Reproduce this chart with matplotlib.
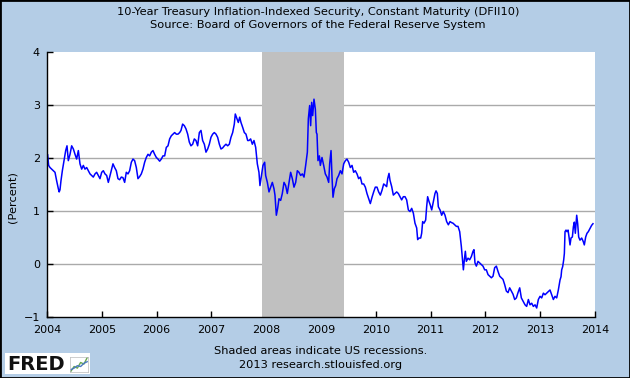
import matplotlib
matplotlib.use('Agg')
import matplotlib.pyplot as plt
from matplotlib.patches import Rectangle

# DFII10 (decimal year, percent)
years = [
    2004.012, 2004.030, 2004.055, 2004.085, 2004.116, 2004.146, 2004.176, 2004.207, 2004.222, 2004.237,
    2004.255, 2004.280, 2004.316, 2004.341, 2004.365, 2004.389, 2004.420, 2004.450, 2004.481, 2004.511,
    2004.541, 2004.572, 2004.602, 2004.633, 2004.663, 2004.693, 2004.724, 2004.754, 2004.785, 2004.815,
    2004.845, 2004.876, 2004.906, 2004.937, 2004.967, 2004.998, 2005.028, 2005.058, 2005.089, 2005.119,
    2005.150, 2005.180,
    2005.204, 2005.234, 2005.265, 2005.295, 2005.326, 2005.356, 2005.386, 2005.417, 2005.447, 2005.478,
    2005.508, 2005.539, 2005.569, 2005.599, 2005.630, 2005.660, 2005.691, 2005.721, 2005.751, 2005.782,
    2005.812, 2005.843, 2005.873, 2005.904, 2005.934, 2005.964, 2005.995, 2006.025, 2006.056, 2006.086,
    2006.116, 2006.147, 2006.177, 2006.208, 2006.238, 2006.269, 2006.299, 2006.329, 2006.360, 2006.390,
    2006.421,
    2006.445, 2006.475, 2006.506, 2006.536, 2006.567, 2006.597, 2006.627, 2006.658, 2006.688, 2006.719,
    2006.749, 2006.780, 2006.810, 2006.840, 2006.871, 2006.901, 2006.932, 2006.962, 2006.992, 2007.023,
    2007.053, 2007.084, 2007.114, 2007.145, 2007.175, 2007.205, 2007.236, 2007.266, 2007.297, 2007.327,
    2007.357, 2007.388, 2007.418, 2007.436, 2007.467, 2007.491, 2007.516, 2007.540, 2007.570, 2007.601,
    2007.631, 2007.662,
    2007.686, 2007.716, 2007.747, 2007.777, 2007.808, 2007.838, 2007.868, 2007.886, 2007.917, 2007.941,
    2007.972, 2007.990, 2008.021, 2008.051, 2008.081, 2008.112, 2008.142, 2008.160, 2008.185, 2008.209,
    2008.233, 2008.264, 2008.294, 2008.325, 2008.355, 2008.385, 2008.416, 2008.446, 2008.477, 2008.507,
    2008.538, 2008.568, 2008.598, 2008.629, 2008.659, 2008.690, 2008.720, 2008.751, 2008.769, 2008.793,
    2008.811, 2008.830, 2008.848, 2008.872, 2008.897, 2008.915,
    2008.927, 2008.945, 2008.970, 2008.988, 2009.018, 2009.049, 2009.079, 2009.110, 2009.140, 2009.158,
    2009.183, 2009.201, 2009.219, 2009.243, 2009.268, 2009.292, 2009.322, 2009.353, 2009.383, 2009.414,
    2009.444, 2009.474, 2009.505, 2009.535, 2009.566, 2009.596, 2009.626, 2009.657, 2009.687, 2009.718,
    2009.748, 2009.779, 2009.809, 2009.839, 2009.870, 2009.900, 2009.931, 2009.961, 2009.991, 2010.022,
    2010.052, 2010.083, 2010.113, 2010.144,
    2010.168, 2010.198, 2010.217, 2010.241, 2010.259, 2010.290, 2010.320, 2010.350, 2010.381, 2010.411,
    2010.442, 2010.472, 2010.503, 2010.533, 2010.563, 2010.594, 2010.624, 2010.655, 2010.685, 2010.715,
    2010.746, 2010.764, 2010.788, 2010.819, 2010.837, 2010.855, 2010.880, 2010.910, 2010.928, 2010.946,
    2010.971, 2010.995, 2011.020, 2011.050, 2011.080, 2011.099, 2011.123, 2011.141, 2011.172, 2011.202,
    2011.232, 2011.263, 2011.293, 2011.324, 2011.354, 2011.384,
    2011.409, 2011.439, 2011.470, 2011.500, 2011.531, 2011.561, 2011.579, 2011.598, 2011.616, 2011.634,
    2011.652, 2011.683, 2011.713, 2011.744, 2011.774, 2011.792, 2011.810, 2011.835, 2011.865, 2011.896,
    2011.926, 2011.956, 2011.987, 2012.017, 2012.048, 2012.078, 2012.109, 2012.139, 2012.169, 2012.200,
    2012.230, 2012.261, 2012.291, 2012.321, 2012.352, 2012.382, 2012.413, 2012.443, 2012.474, 2012.504,
    2012.534, 2012.565, 2012.595, 2012.626, 2012.656, 2012.686,
    2012.723, 2012.753, 2012.784, 2012.814, 2012.845, 2012.875, 2012.906, 2012.936, 2012.966, 2012.997,
    2013.027, 2013.058, 2013.088, 2013.118, 2013.149, 2013.179, 2013.210, 2013.240, 2013.270, 2013.301,
    2013.331, 2013.362, 2013.380, 2013.392, 2013.410, 2013.429, 2013.441, 2013.453, 2013.471, 2013.489,
    2013.508, 2013.526, 2013.544, 2013.562, 2013.587, 2013.605, 2013.623, 2013.641, 2013.666, 2013.684,
    2013.702, 2013.726, 2013.757, 2013.787, 2013.805, 2013.830, 2013.854, 2013.878, 2013.909, 2013.939,
    2013.963,
]
values = [
    2.06, 1.86, 1.82, 1.79, 1.76, 1.73, 1.57, 1.42, 1.36, 1.40,
    1.57, 1.76, 1.98, 2.14, 2.23, 1.95, 2.07, 2.23, 2.17, 2.07,
    1.98, 2.14, 1.89, 1.79, 1.86, 1.79, 1.82, 1.76, 1.70, 1.67,
    1.64, 1.70, 1.73, 1.67, 1.61, 1.73, 1.76, 1.70, 1.67, 1.54,
    1.67, 1.79,
    1.89, 1.82, 1.76, 1.61, 1.59, 1.64, 1.63, 1.54, 1.73, 1.70,
    1.76, 1.92, 1.98, 1.95, 1.82, 1.61, 1.65, 1.70, 1.79, 1.92,
    2.01, 2.07, 2.04, 2.11, 2.14, 2.07, 2.01, 1.98, 1.94, 1.98,
    2.04, 2.04, 2.20, 2.23, 2.36, 2.42, 2.45, 2.48, 2.45, 2.45,
    2.48,
    2.52, 2.64, 2.61, 2.55, 2.45, 2.30, 2.23, 2.26, 2.36, 2.33,
    2.23, 2.48, 2.52, 2.33, 2.26, 2.11, 2.17, 2.26, 2.39, 2.45,
    2.48, 2.45, 2.39, 2.26, 2.17, 2.19, 2.23, 2.26, 2.23, 2.26,
    2.39, 2.48, 2.64, 2.83, 2.74, 2.67, 2.77, 2.67, 2.58, 2.48,
    2.45, 2.33,
    2.33, 2.36, 2.26, 2.33, 2.20, 1.89, 1.73, 1.48, 1.70, 1.86,
    1.92, 1.67, 1.54, 1.36, 1.45, 1.54, 1.42, 1.30, 0.92, 1.05,
    1.23, 1.20, 1.33, 1.54, 1.48, 1.33, 1.54, 1.73, 1.61, 1.45,
    1.54, 1.76, 1.73, 1.67, 1.70, 1.64, 1.86, 2.11, 2.74, 2.99,
    2.61, 3.05, 2.80, 3.11, 2.92, 2.48,
    2.45, 1.95, 2.04, 1.86, 2.01, 1.86, 1.70, 1.64, 1.54, 1.89,
    2.14, 1.64, 1.26, 1.42, 1.48, 1.61, 1.67, 1.76, 1.70, 1.89,
    1.95, 1.98, 1.92, 1.82, 1.86, 1.73, 1.76, 1.70, 1.61, 1.64,
    1.51, 1.51, 1.45, 1.33, 1.23, 1.14, 1.26, 1.36, 1.45, 1.45,
    1.36, 1.30, 1.39, 1.51,
    1.49, 1.46, 1.61, 1.71, 1.58, 1.46, 1.30, 1.33, 1.36, 1.33,
    1.27, 1.21, 1.27, 1.27, 1.21, 1.02, 0.99, 1.05, 0.96, 0.77,
    0.68, 0.46, 0.49, 0.49, 0.58, 0.80, 0.77, 0.83, 1.08, 1.27,
    1.18, 1.11, 1.02, 1.18, 1.33, 1.38, 1.33, 1.08, 1.02, 0.92,
    0.99, 0.92, 0.80, 0.74, 0.80, 0.78,
    0.77, 0.74, 0.71, 0.71, 0.61, 0.33, 0.11, -0.11, 0.08, 0.24,
    0.05, 0.11, 0.08, 0.14, 0.24, 0.27, 0.02, -0.04, 0.05, 0.02,
    -0.01, -0.04, -0.11, -0.11, -0.20, -0.23, -0.26, -0.23, -0.07, -0.04,
    -0.14, -0.23, -0.26, -0.29, -0.39, -0.51, -0.54, -0.45, -0.51, -0.57,
    -0.67, -0.64, -0.54, -0.45, -0.64, -0.70,
    -0.77, -0.80, -0.67, -0.77, -0.74, -0.80, -0.77, -0.83, -0.67, -0.61,
    -0.64, -0.55, -0.58, -0.55, -0.52, -0.49, -0.58, -0.67, -0.61, -0.64,
    -0.49, -0.30, -0.24, -0.11, -0.05, 0.08, 0.20, 0.61, 0.64, 0.61,
    0.64, 0.51, 0.36, 0.49, 0.51, 0.70, 0.79, 0.58, 0.92, 0.76,
    0.51, 0.45, 0.49, 0.42, 0.36, 0.51, 0.58, 0.61, 0.67, 0.73,
    0.76,
]

rec_start, rec_end = 2007.917, 2009.417
xticks = list(range(2004, 2015))
yticks = [-1, 0, 1, 2, 3, 4]
grid_levels = [0, 1, 2, 3]
logo_a = [0, 0.3, 0.2, 0.55, 0.45, 0.85]
logo_b = [0.1, 0.2, 0.35, 0.3, 0.5, 0.6]

bg = '#b4cde6'
W, H = 630, 378
fig = plt.figure(figsize=(6.3, 3.78), dpi=100, facecolor=bg)

ax = fig.add_axes([47 / W, 1 - 317 / H, 548 / W, 265 / H])
ax.set_facecolor('white')
ax.set_xlim(2004, 2014)
ax.set_ylim(-1, 4)
for g in grid_levels:
    ax.axhline(g, color='#aaaaaa', lw=1, zorder=1)
ax.axvspan(rec_start, rec_end, color='#c0c0c0', lw=0, zorder=2)
ax.plot(years, values, color='#0000ff', lw=1.1, zorder=3)

for s in ['top', 'right']:
    ax.spines[s].set_visible(False)
for s in ['left', 'bottom']:
    ax.spines[s].set_color('black')
    ax.spines[s].set_linewidth(1)
    ax.spines[s].set_zorder(4)
ax.set_xticks(xticks)
ax.set_yticks(yticks)
ax.tick_params(direction='in', length=4, width=1, labelsize=8, colors='black')
ax.tick_params(axis='x', pad=6)
ax.tick_params(axis='y', pad=5)

fs = 8.2
fig.text(318 / W, 1 - 12 / H, '10-Year Treasury Inflation-Indexed Security, Constant Maturity (DFII10)',
         ha='center', va='center', fontsize=fs)
fig.text(318 / W, 1 - 25 / H, 'Source: Board of Governors of the Federal Reserve System',
         ha='center', va='center', fontsize=fs)
fig.text(13 / W, 1 - 197 / H, '(Percent)', rotation=90, ha='center', va='center', fontsize=fs)
fig.text(321 / W, 1 - 351 / H, 'Shaded areas indicate US recessions.', ha='center', va='center', fontsize=fs)
fig.text(321 / W, 1 - 365 / H, '2013 research.stlouisfed.org', ha='center', va='center', fontsize=fs)

# FRED logo
fig.patches.append(Rectangle((5 / W, 1 - 374 / H), 85 / W, 21 / H, transform=fig.transFigure,
                             facecolor='white', edgecolor='none', zorder=5))
fig.text(7 / W, 1 - 364 / H, 'FRED', ha='left', va='center', fontsize=14, fontweight='heavy',
         color='#111111', zorder=6)
iax = fig.add_axes([70 / W, 1 - 372 / H, 18 / W, 15 / H], zorder=7)
iax.plot(range(len(logo_a)), logo_a, color='#6aa84f', lw=1)
iax.plot(range(len(logo_b)), logo_b, color='#4a78c2', lw=1)
iax.set_xticks([])
iax.set_yticks([])
for s in iax.spines.values():
    s.set_color('#bbbbbb')
    s.set_linewidth(0.5)

fig.patches.append(Rectangle((0, 0), 1, 1, transform=fig.transFigure, facecolor='none',
                             edgecolor='black', lw=2, zorder=10))

plt.savefig('out.png', dpi=100, facecolor=bg)
